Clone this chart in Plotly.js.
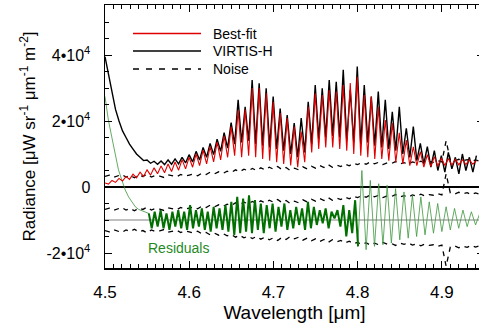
<!DOCTYPE html>
<html><head><meta charset="utf-8">
<script src="https://cdn.plot.ly/plotly-3.0.1.min.js"></script>
<style>html,body{margin:0;padding:0;overflow:hidden;background:#fff}</style>
</head><body><div id="chart"></div>
<script>
// Spectrum sampling grid (μm)
const SPEC_START = 4.5, SPEC_STEP = 0.00416;
// VIRTIS-H observed radiance
const virtisH = [
39500,34000,28500,23500,20000,17000,15000,13000,11500,10000,
9000,8000,8200,7200,7800,6900,7900,6800,8200,6900,
8500,7000,9000,7300,9800,7600,10800,8200,12000,9000,
13200,9800,14500,10800,16500,11800,19500,13000,26400,13500,
24300,14000,32400,13000,31400,12500,29900,12000,27400,11500,
23800,11000,21800,10000,19400,9000,20900,10500,25800,13000,
30900,14500,29900,15000,32400,15500,31900,15000,35500,14000,
29400,13500,36500,13000,30900,13500,27400,12500,28900,12000,
26400,11500,22800,11000,24300,10000,17800,9000,18300,8000,
13200,7000,12200,6000,11000,5000,9500,4500,10500,5500,
9000,4000,10000,5000,9000,4500,9500];
// Best-fit model radiance
const bestFit = [
1200,900,2000,1400,2600,1800,3200,2300,3900,2800,
4500,3200,5200,3600,5800,4000,6400,4300,7000,4700,
7600,5100,8300,5500,9000,6000,10000,6500,11200,7000,
12300,7600,13600,8200,15500,9000,18300,9500,23300,9000,
23500,9500,30000,9000,30000,8500,28400,8000,25800,7500,
22400,7000,20900,6500,18300,6000,16800,7500,24300,10500,
28400,11500,27900,12000,29400,12000,28900,11500,30900,11000,
31500,10000,33400,9500,27900,9000,27400,8500,24300,8500,
20300,8000,19400,7500,16400,7000,14200,6500,12200,6500,
10700,6000,9800,6200,9200,6300,8800,6500,8600,6600,
8400,6700,8300,6800,8200,6900,8000];
// Residuals (VIRTIS-H minus best fit), drawn shifted by RESID_OFFSET
const RESID_OFFSET = -10000;
const RESID_LEAD_START = 4.5, RESID_LEAD_STEP = 0.004;
const residLead = [37400,30300,25200,20700,15200,12100,9100,7000,5500,4000,3200,2800,2500,2000];
const RESID_FIT_START = 4.552, RESID_FIT_STEP = 0.0035;
const residFit = [
2000,-2500,2500,-2000,3000,-2500,2000,-3000,2500,-2000,
3000,-2500,2500,-3000,4500,-2500,3000,-2000,3500,-3000,
2500,-3500,4000,-2500,3500,-3000,4500,-3500,5500,-4500,
7000,-4000,6500,-3500,7500,-4000,6000,-3000,5000,-4000,
4500,-2500,5000,-3500,4000,-2000,5000,-3000,3000,-2500,
4000,-1500,3500,-3000,5500,-2500,4000,-1500,3000,-1000,
3500,-2500,2500,500,3000,-2000,4500,-5000,3000,-4000,
6000,-8000];
const RESID_TAIL_START = 4.8, RESID_TAIL_STEP = 0.005;
const residTail = [
-8000,15000,-9000,12000,-8000,11000,-7500,10500,-7000,9500,
-6000,8500,-5500,7500,-5000,7000,-4500,5500,-4000,5000,
-3500,4000,-3000,3500,-2500,3000,-2000,2500,-1500,2000];
// 1-sigma noise
const NOISE_START = 4.5, NOISE_STEP = 0.005;
const noise = [
3200,3600,2900,3400,3800,3000,3500,2800,3600,3200,
3900,3000,3500,3300,2900,3700,3400,3100,3800,3300,
3600,3900,3400,4200,3800,4500,4000,4600,4100,4800,
4400,5200,4600,5400,4900,5600,5000,5800,5200,6000,
5400,6200,5300,5900,5000,5700,5200,6100,5500,6300,
5700,6500,5900,6800,6000,6600,6200,7000,6400,7200,
6800,7400,6900,7600,7000,7500,6800,7300,7100,7700,
7000,7400,6900,7600,7200,7800,7300,7700,7500,8000,
7600,14000,8200,7800,8400,7900,8300,7700,8200,7800];
// Axis ticks
const xTickVals = [4.5,4.6,4.7,4.8,4.9];
const xTickText = ['4.5','4.6','4.7','4.8','4.9'];
const yTickVals = [-20000,0,20000,40000];
const yTickText = ['-2•10<sup>4</sup>','0','2•10<sup>4</sup>','4•10<sup>4</sup>'];
const legendNames = ['Best-fit','VIRTIS-H','Noise'];
const residLabel = 'Residuals';

function grid(start, step, n){const a=[];for(let i=0;i<n;i++)a.push(+(start+i*step).toFixed(5));return a;}
const specX = grid(SPEC_START, SPEC_STEP, virtisH.length);
const noiseX = grid(NOISE_START, NOISE_STEP, noise.length);
const FONT = 'Liberation Sans, Arial, Helvetica, sans-serif';
const dashStyle = {color:'#000', width:1.3, dash:'5px,5px'};

const traces = [
  {x:noiseX, y:noise, mode:'lines', line:dashStyle, name:legendNames[2], showlegend:false},
  {x:noiseX, y:noise.map(v=>RESID_OFFSET+v), mode:'lines', line:dashStyle, showlegend:false},
  {x:noiseX, y:noise.map(v=>RESID_OFFSET-v), mode:'lines', line:dashStyle, showlegend:false},
  {x:grid(RESID_LEAD_START,RESID_LEAD_STEP,residLead.length), y:residLead.map(v=>v+RESID_OFFSET), mode:'lines', line:{color:'#3c963c', width:0.8}, showlegend:false},
  {x:grid(RESID_TAIL_START,RESID_TAIL_STEP,residTail.length), y:residTail.map(v=>v+RESID_OFFSET), mode:'lines', line:{color:'#3c963c', width:0.8}, showlegend:false},
  {x:grid(RESID_FIT_START,RESID_FIT_STEP,residFit.length), y:residFit.map(v=>v+RESID_OFFSET), mode:'lines', line:{color:'#007000', width:2}, showlegend:false},
  {x:specX, y:virtisH, mode:'lines', line:{color:'#000', width:1.4}, name:legendNames[1], showlegend:false},
  {x:specX, y:bestFit, mode:'lines', line:{color:'#e00000', width:1.1}, name:legendNames[0], showlegend:false}
];

const W = 484, L = 105;
const px2x = p => (p - L) / (W - L);
const py2y = p => (268 - p) / 263;
const legY = [33.5, 51, 69];
const legColors = [{color:'#e00000',width:1.5},{color:'#000',width:1.5},{color:'#000',width:1.5,dash:'6px,7px'}];
const shapes = [
  {type:'line', xref:'paper', x0:0, x1:1, yref:'y', y0:RESID_OFFSET, y1:RESID_OFFSET, line:{color:'#808080', width:1}, layer:'below'}
];
const annotations = [];
legendNames.forEach((n,i)=>{
  shapes.push({type:'line', xref:'paper', yref:'paper', x0:px2x(133), x1:px2x(201), y0:py2y(legY[i]), y1:py2y(legY[i]), line:legColors[i]});
  annotations.push({xref:'paper', yref:'paper', x:px2x(211), y:py2y(legY[i]), xanchor:'left', yanchor:'middle', text:n, showarrow:false, font:{family:FONT, size:14, color:'#000'}});
});
annotations.push({xref:'paper', yref:'paper', x:px2x(178.5), y:py2y(248), xanchor:'center', yanchor:'middle', text:residLabel, showarrow:false, font:{family:FONT, size:14, color:'#1f8a1f'}});

const layout = {
  width: W, height: 323,
  margin:{l:L, r:0, t:5, b:55},
  paper_bgcolor:'#fff', plot_bgcolor:'#fff',
  showlegend:false,
  font:{family:FONT, color:'#000'},
  xaxis:{
    range:[4.5, 4.95], showgrid:false, zeroline:false,
    showline:true, linecolor:'#000', linewidth:1.5, mirror:'allticks',
    ticks:'inside', ticklen:7, tickwidth:1, tickcolor:'#000',
    tickvals:xTickVals, ticktext:xTickText, tickfont:{size:17, family:FONT},
    ticklabelstandoff:8,
    minor:{dtick:0.01, tick0:4.5, ticks:'inside', ticklen:4, tickcolor:'#000', tickwidth:1, showgrid:false},
    title:{text:'Wavelength [μm]', font:{size:19, family:FONT}, standoff:6}
  },
  yaxis:{
    range:[-24545, 55150], showgrid:false,
    zeroline:true, zerolinecolor:'#000', zerolinewidth:1.5,
    showline:true, linecolor:'#000', linewidth:1.5, mirror:'allticks',
    ticks:'inside', ticklen:7, tickwidth:1, tickcolor:'#000',
    tickvals:yTickVals, ticktext:yTickText, tickfont:{size:16, family:FONT},
    ticklabelstandoff:10,
    minor:{dtick:5000, tick0:0, ticks:'inside', ticklen:4, tickcolor:'#000', tickwidth:1, showgrid:false},
    title:{text:'Radiance [μW sr<sup>-1</sup> μm<sup>-1</sup> m<sup>-2</sup>]', font:{size:17, family:FONT}, standoff:6}
  },
  shapes: shapes,
  annotations: annotations
};
Plotly.newPlot('chart', traces, layout, {displayModeBar:false, staticPlot:true});
</script>
</body></html>
